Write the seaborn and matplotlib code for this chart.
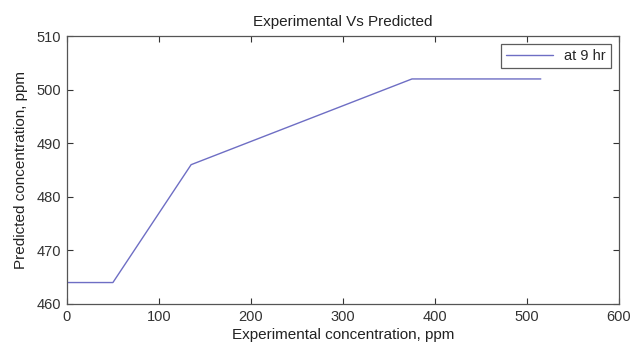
"""experimental vs predicted concentration line chart"""

import pandas as pd
import seaborn as sns
import matplotlib.pyplot as plt

experimental_ppm = [0, 50, 135, 375, 515]
predicted_ppm = [464, 464, 486, 502, 502]
series_label = "at 9 hr"

sns.set_theme(style="ticks")
plt.rcParams["font.family"] = ["Liberation Sans", "DejaVu Sans"]

data = pd.DataFrame({"x": experimental_ppm, "y": predicted_ppm, "series": series_label})

fig = plt.figure(figsize=(6.31, 3.47), dpi=100)
ax = fig.add_axes([0.106, 0.124, 0.875, 0.772])
sns.lineplot(data=data, x="x", y="y", hue="series", palette=["#6e6ec4"],
             linewidth=1.0, ax=ax, sort=False)

ax.set_xlim(0, 600)
ax.set_ylim(460, 510)
ax.set_xticks(range(0, 601, 100))
ax.set_yticks(range(460, 511, 10))
ax.tick_params(direction="in", top=True, right=True, length=4, width=0.8,
               labelsize=10.5, colors="#333333", pad=4)
for side in ax.spines.values():
    side.set_visible(True)
    side.set_color("#555555")
    side.set_linewidth(0.9)

ax.set_title("Experimental Vs Predicted", fontsize=11, pad=7, color="#222222")
ax.set_xlabel("Experimental concentration, ppm", fontsize=11, labelpad=3, color="#222222")
ax.set_ylabel("Predicted concentration, ppm", fontsize=11, labelpad=6, color="#222222")

leg = ax.legend(loc="upper right", fontsize=10.5, frameon=True, fancybox=False,
                handlelength=3.2, borderpad=0.35, borderaxespad=0.55)
leg.get_frame().set_edgecolor("#333333")
leg.get_frame().set_linewidth(0.9)

fig.savefig("out.png", dpi=100)
